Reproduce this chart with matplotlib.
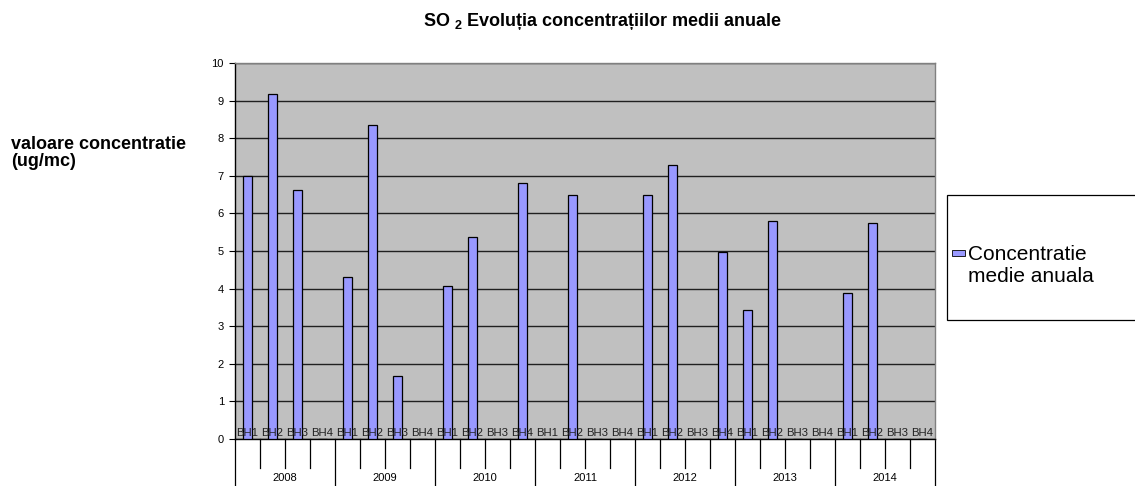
import numpy as np
import matplotlib
matplotlib.use("Agg")
import matplotlib.pyplot as plt
from matplotlib.patches import Rectangle

plt.rcParams['font.family'] = ['Liberation Sans', 'DejaVu Sans']
plt.rcParams['mathtext.fontset'] = 'custom'
plt.rcParams['mathtext.rm'] = 'Liberation Sans:bold'
plt.rcParams['mathtext.bf'] = 'Liberation Sans:bold'

years = ['2008', '2009', '2010', '2011', '2012', '2013', '2014']
stations = ['BH1', 'BH2', 'BH3', 'BH4']
v2008 = [7.0, 9.17, 6.62, np.nan]
v2009 = [4.30, 8.34, 1.67, np.nan]
v2010 = [4.06, 5.36, np.nan, 6.80]
v2011 = [np.nan, 6.50, np.nan, np.nan]
v2012 = [6.48, 7.28, np.nan, 4.98]
v2013 = [3.43, 5.80, np.nan, np.nan]
v2014 = [3.88, 5.75, np.nan, np.nan]
values = [v2008, v2009, v2010, v2011, v2012, v2013, v2014]
series_label = 'Concentratie\nmedie anuala'
yticks = list(range(0, 11))

W, H = 1135, 486
fig = plt.figure(figsize=(W / 100, H / 100), dpi=100)
ax = fig.add_axes([235 / W, 1 - 439 / H, 700 / W, 376 / H])
ax.set_facecolor('#C0C0C0')

flat = [v for yv in values for v in yv]
n = len(flat)
x = np.arange(n) + 0.5
ax.bar(x, np.nan_to_num(flat), width=0.39, color='#9999FF', edgecolor='black',
       linewidth=0.9, zorder=3)

ax.set_xlim(0, n)
ax.set_ylim(0, 10)
ax.set_yticks(yticks)
ax.set_yticklabels([str(t) for t in yticks], fontsize=8)
ax.yaxis.grid(True, color='#202020', linewidth=1.0, zorder=1)
ax.set_axisbelow(True)
ax.tick_params(axis='y', direction='out', length=4, width=0.8, pad=4)
ax.set_xticks([])
for s in ['top', 'right']:
    ax.spines[s].set_color('#808080')
    ax.spines[s].set_linewidth(1.0)
for s in ['left', 'bottom']:
    ax.spines[s].set_color('black')
    ax.spines[s].set_linewidth(1.0)

# station labels inside plot
for i in range(n):
    ax.text(x[i], 0.17, stations[i % 4], ha='center', va='center', fontsize=8.2,
            color='#222222', zorder=5)

# category grouping below axis
tr = ax.get_xaxis_transform()
for b in range(n + 1):
    if b % 4 == 0:
        ax.plot([b, b], [0, -0.2], transform=tr, color='black', lw=0.9, clip_on=False)
    else:
        ax.plot([b, b], [0, -0.077], transform=tr, color='black', lw=0.9, clip_on=False)
for k, yr in enumerate(years):
    ax.text(4 * k + 2, -0.103, yr, transform=tr, ha='center', va='center', fontsize=8)

# title
fig.text(603 / W, 1 - 21 / H, r'SO $_{2}$ Evoluția concentrațiilor medii anuale',
         ha='center', va='center', fontsize=13, fontweight='bold')

# y label
fig.text(11 / W, 1 - 153 / H, 'valoare concentratie\n(ug/mc)', ha='left', va='center',
         fontsize=13, fontweight='bold', linespacing=1.0)

# legend box
fig.patches.append(Rectangle((947 / W, 1 - 320 / H), 200 / W, 125 / H,
                             transform=fig.transFigure, facecolor='white',
                             edgecolor='black', linewidth=0.9, clip_on=False))
fig.patches.append(Rectangle((952 / W, 1 - 256 / H), 13 / W, 6 / H,
                             transform=fig.transFigure, facecolor='#9999FF',
                             edgecolor='black', linewidth=0.6))
fig.text(968 / W, 1 - 265.5 / H, series_label, ha='left', va='center', fontsize=15,
         linespacing=1.15)

fig.savefig('out.png', dpi=100)
